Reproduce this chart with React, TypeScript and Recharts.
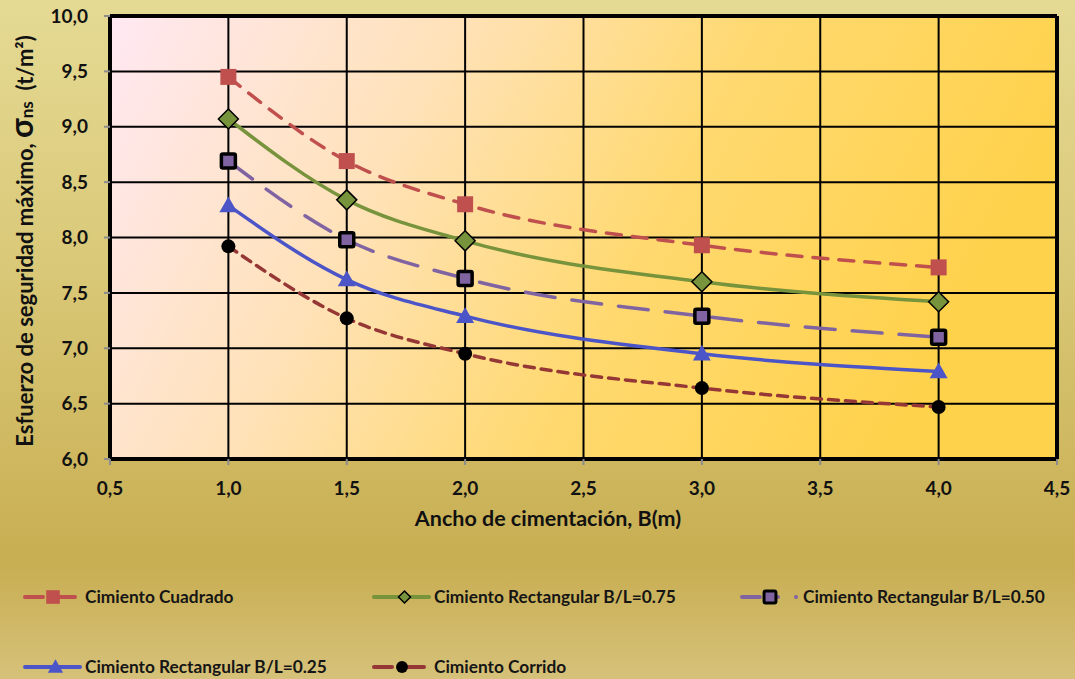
import React from "react"
import { CartesianGrid, Legend, Line, LineChart, ReferenceLine, XAxis, YAxis } from "recharts"

// values
const anchos = [1.0, 1.5, 2.0, 3.0, 4.0]
const cuadrado = [9.45, 8.69, 8.3, 7.93, 7.73]
const rect075 = [9.07, 8.34, 7.97, 7.6, 7.42]
const rect050 = [8.69, 7.98, 7.63, 7.29, 7.1]
const rect025 = [8.29, 7.62, 7.29, 6.95, 6.79]
const corrido = [7.92, 7.27, 6.95, 6.64, 6.47]

const xTicks = [0.5, 1.0, 1.5, 2.0, 2.5, 3.0, 3.5, 4.0, 4.5]
const yTicks = [6.0, 6.5, 7.0, 7.5, 8.0, 8.5, 9.0, 9.5, 10.0]

const data = anchos.map((b, i) => ({
  b,
  cuadrado: cuadrado[i],
  rect075: rect075[i],
  rect050: rect050[i],
  rect025: rect025[i],
  corrido: corrido[i],
}))

type MarkerKind = "square" | "diamond" | "boxed" | "triangle" | "circle"

const series: { key: string; name: string; color: string; dash?: string; marker: MarkerKind }[] = [
  { key: "cuadrado", name: "Cimiento Cuadrado", color: "#C0504D", dash: "15 11", marker: "square" },
  { key: "rect075", name: "Cimiento Rectangular B/L=0.75", color: "#77933C", marker: "diamond" },
  { key: "rect050", name: "Cimiento Rectangular B/L=0.50", color: "#8064A2", dash: "30 17", marker: "boxed" },
  { key: "rect025", name: "Cimiento Rectangular B/L=0.25", color: "#4B55C8", marker: "triangle" },
  { key: "corrido", name: "Cimiento Corrido", color: "#953735", dash: "10 7", marker: "circle" },
]

const FONT = "Lato, 'Open Sans', sans-serif"
const fmt = (v: number) => v.toFixed(1).replace(".", ",")

function Marker({ kind, cx, cy, color, scale = 1 }: { kind: MarkerKind; cx: number; cy: number; color: string; scale?: number }) {
  const s = scale
  if (kind === "square") {
    return <rect x={cx - 8 * s} y={cy - 8 * s} width={16 * s} height={16 * s} fill={color} />
  }
  if (kind === "diamond") {
    const r = 10 * s
    return (
      <polygon
        points={`${cx},${cy - r} ${cx + r},${cy} ${cx},${cy + r} ${cx - r},${cy}`}
        fill={color}
        stroke="#000"
        strokeWidth={1.5}
      />
    )
  }
  if (kind === "boxed") {
    return (
      <rect
        x={cx - 7 * s}
        y={cy - 7 * s}
        width={14 * s}
        height={14 * s}
        rx={1.5}
        fill={color}
        stroke="#000"
        strokeWidth={3.5 * s}
      />
    )
  }
  if (kind === "triangle") {
    const r = 9 * s
    return <polygon points={`${cx},${cy - r} ${cx + r},${cy + r * 0.75} ${cx - r},${cy + r * 0.75}`} fill={color} />
  }
  return <circle cx={cx} cy={cy} r={7 * s} fill="#000" />
}

const legendPos = [
  { x: 25, y: 27, w: 50, tx: 85 },
  { x: 374, y: 27, w: 55, tx: 434 },
  { x: 742, y: 27, w: 36, tx: 803 },
  { x: 25, y: 97, w: 55, tx: 85 },
  { x: 374, y: 97, w: 50, tx: 434 },
]

function LegendContent() {
  return (
    <svg width={1075} height={120} style={{ display: "block" }}>
      {series.map((s, i) => {
        const p = legendPos[i]
        const mid = i === 2 ? p.x + 28 : p.x + p.w / 2 + 3
        return (
          <g key={s.key}>
            {s.dash ? (
              <>
                <line x1={p.x} y1={p.y} x2={mid - 10} y2={p.y} stroke={s.color} strokeWidth={4} strokeLinecap="round" />
                <line x1={mid + 6} y1={p.y} x2={p.x + p.w} y2={p.y} stroke={s.color} strokeWidth={4} strokeLinecap="round" />
              </>
            ) : (
              <line x1={p.x} y1={p.y} x2={p.x + p.w} y2={p.y} stroke={s.color} strokeWidth={4} strokeLinecap="round" />
            )}
            {i === 2 && <circle cx={796} cy={p.y} r={2} fill={s.color} />}
            <Marker kind={s.marker} cx={mid} cy={p.y} color={s.color} scale={i === 1 ? 0.6 : 0.85} />
            <text x={p.tx} y={p.y} dy="0.36em" fontFamily={FONT} fontWeight={700} fontSize={17.3} fill="#151515">
              {s.name}
            </text>
          </g>
        )
      })}
    </svg>
  )
}

export default function App() {
  return (
    <div
      style={{
        position: "absolute",
        left: 0,
        top: 0,
        width: 1075,
        height: 679,
        background: "linear-gradient(180deg, #E5DA94 0%, #D9C877 40%, #C8AE52 83%, #D6C17A 100%)",
      }}
    >
      <LineChart width={1075} height={679} data={data} margin={{ top: 16, right: 18, bottom: 150, left: 0 }}>
        <defs>
          <linearGradient id="plotBg" x1="0" y1="0" x2="1" y2="0.25">
            <stop offset="0%" stopColor="#FFE8F3" />
            <stop offset="35%" stopColor="#FFE2B8" />
            <stop offset="65%" stopColor="#FFD970" />
            <stop offset="100%" stopColor="#FFD24C" />
          </linearGradient>
        </defs>
        <CartesianGrid fill="url(#plotBg)" fillOpacity={1} stroke="#000" strokeWidth={2} />
        <XAxis
          type="number"
          dataKey="b"
          domain={[0.5, 4.5]}
          ticks={xTicks}
          tickFormatter={fmt}
          height={70}
          axisLine={{ stroke: "#000", strokeWidth: 4 }}
          tickLine={{ stroke: "#8c8c8c", strokeWidth: 2 }}
          tickSize={6}
          tickMargin={17}
          tick={{ fill: "#111", fontFamily: FONT, fontWeight: 700, fontSize: 19 }}
          label={{
            content: () => (
              <text x={548} y={526} textAnchor="middle" fontFamily={FONT} fontWeight={700} fontSize={21.5} fill="#111">
                Ancho de cimentación, B(m)
              </text>
            ),
          }}
        />
        <YAxis
          type="number"
          domain={[6, 10]}
          ticks={yTicks}
          tickFormatter={fmt}
          width={110}
          axisLine={{ stroke: "#000", strokeWidth: 4 }}
          tickLine={{ stroke: "#8c8c8c", strokeWidth: 2 }}
          tickSize={6}
          tickMargin={16}
          tick={{ fill: "#111", fontFamily: FONT, fontWeight: 700, fontSize: 19 }}
          label={{
            content: () => (
              <text
                x={0}
                y={0}
                transform="translate(33, 241) rotate(-90)"
                textAnchor="middle"
                fontFamily={FONT}
                fontWeight={700}
                fontSize={22}
                fill="#111"
              >
                <tspan>{"Esfuerzo de seguridad máximo,\u00A0"}</tspan>
                <tspan fontSize={32}>σ</tspan>
                <tspan fontSize={17}>ns</tspan>
                <tspan>{"\u00A0\u00A0(t/m²)"}</tspan>
              </text>
            ),
          }}
        />
        <ReferenceLine y={10} stroke="#000" strokeWidth={4} />
        <ReferenceLine x={4.5} stroke="#000" strokeWidth={4} />
        {series.map((s) => (
          <Line
            key={s.key}
            type="monotone"
            dataKey={s.key}
            name={s.name}
            stroke={s.color}
            strokeWidth={3.5}
            strokeDasharray={s.dash}
            strokeLinecap="round"
            isAnimationActive={false}
            dot={(props: any) => (
              <Marker key={`${s.key}-${props.index}`} kind={s.marker} cx={props.cx} cy={props.cy} color={s.color} />
            )}
          />
        ))}
        <Legend
          layout="horizontal"
          verticalAlign="middle"
          align="center"
          content={() => <LegendContent />}
          wrapperStyle={{ position: "absolute", top: 570, left: 0, width: 1075, height: 120 }}
        />
      </LineChart>
    </div>
  )
}
